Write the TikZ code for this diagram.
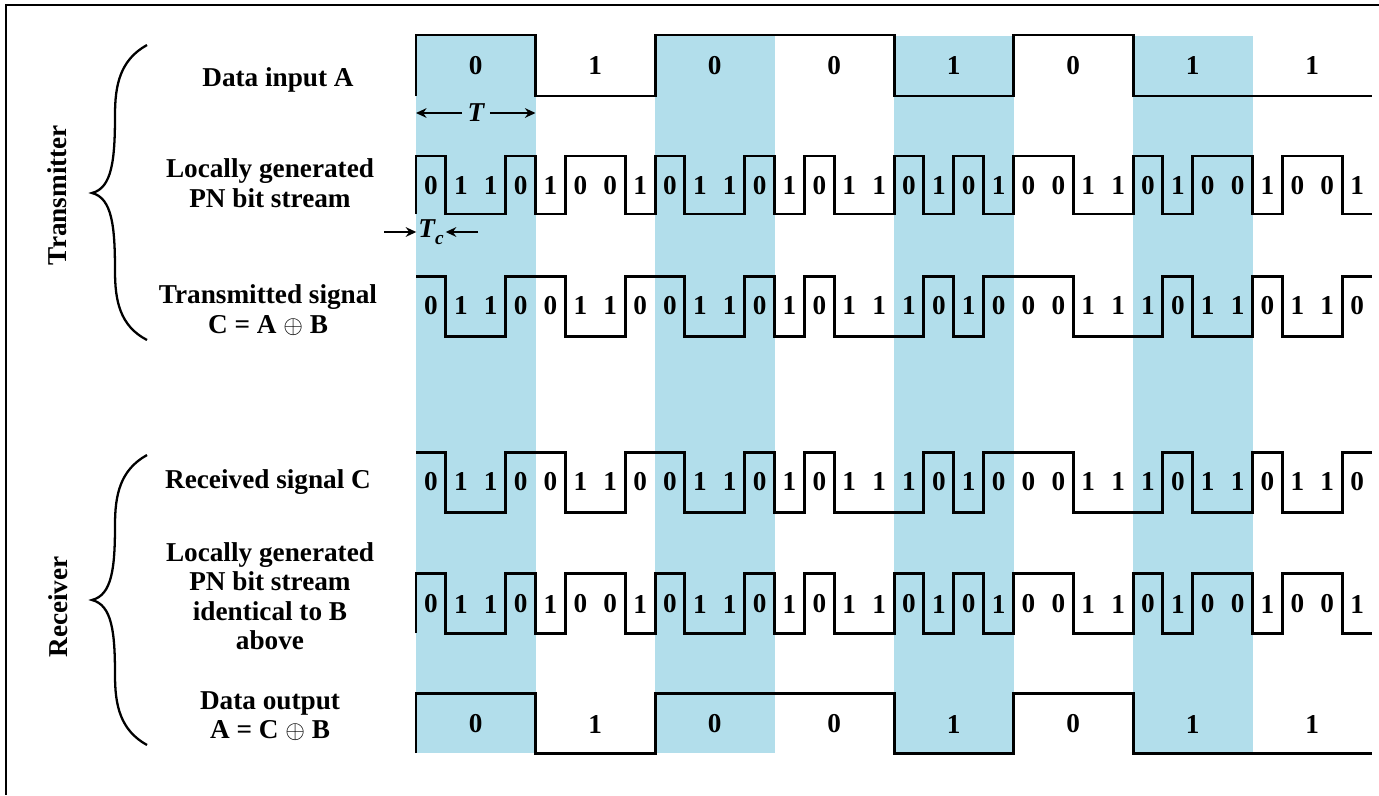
\documentclass[tikz,border=0pt]{standalone}
\usepackage{fontspec}
\setmainfont{Liberation Serif}
\usetikzlibrary{arrows.meta}
\definecolor{chipblue}{RGB}{178,222,235}

\begin{document}
\begin{tikzpicture}[x=0.02cm,y=-0.02cm,
  lbl/.style={font=\fontsize{15.5pt}{16.8pt}\selectfont\bfseries,align=center,inner sep=0pt},
  bit/.style={font=\fontsize{15.5pt}{16pt}\selectfont\bfseries,inner sep=0pt},
  wave/.style={line width=1.7pt,line join=miter},
  brace/.style={line width=1.3pt},
  arr/.style={-{Stealth[length=6pt,width=5.5pt]},line width=1pt}]
  \useasboundingbox (0,0) rectangle (1379,795);
  \def\abits{0,1,0,0,1,0,1,1}
  \def\pnbits{0,1,1,0,1,0,0,1,0,1,1,0,1,0,1,1,0,1,0,1,0,0,1,1,0,1,0,0,1,0,0,1}
  \def\cbits{0,1,1,0,0,1,1,0,0,1,1,0,1,0,1,1,1,0,1,0,0,0,1,1,1,0,1,1,0,1,1,0}
  % frame
  \draw[line width=1.2pt] (1379,5) -- (6,5) -- (6,795);
  % shaded bit periods
  \foreach \k in {0,2,4,6}
    \fill[chipblue] ({416+\k*119.5},36) rectangle ({416+(\k+1)*119.5},753);
  % transmitter
  \node[lbl,rotate=90] (tx) at (57,195) {Transmitter};
  \draw[brace] (147,45) .. controls (120,60) and (115,85) .. (115,115)
    .. controls (115,160) and (112,188) .. (92,193)
    .. controls (112,198) and (115,226) .. (115,271)
    .. controls (115,301) and (120,326) .. (147,340);
  \node[lbl] (ain) at (278,80) {Data input A};
  \node[lbl] (pntx) at (270,183) {Locally generated\\PN bit stream};
  \node[lbl] (ctx) at (268,310) {Transmitted signal\\C = A $\oplus$ B};
  % receiver
  \node[lbl,rotate=90] (rx) at (58,607) {Receiver};
  \draw[brace] (147,455) .. controls (120,470) and (115,495) .. (115,525)
    .. controls (115,568) and (112,595) .. (92,600)
    .. controls (112,605) and (115,632) .. (115,675)
    .. controls (115,705) and (120,730) .. (147,745);
  \node[lbl] (crx) at (268,482) {Received signal C};
  \node[lbl] (pnrx) at (270,596) {Locally generated\\PN bit stream\\identical to B\\above};
  \node[lbl] (aout) at (270,716) {Data output\\A = C $\oplus$ B};
  % data input A
  \draw[wave] (416,96) \foreach \b [count=\i from 0] in \abits
    { -- ({416+\i*119.5},{35+61*\b}) -- ({416+(\i+1)*119.5},{35+61*\b}) };
  \foreach \b [count=\i from 0] in \abits
    \node[bit] (a\i) at ({416+(\i+0.5)*119.5},66) {\b};
  % PN stream B
  \draw[wave] (416,214) \foreach \b [count=\i from 0] in \pnbits
    { -- ({416+\i*29.875},{156+58*\b}) -- ({416+(\i+1)*29.875},{156+58*\b}) };
  \foreach \b [count=\i from 0] in \pnbits
    \node[bit] (b\i) at ({416+(\i+0.5)*29.875},186) {\b};
  % transmitted C
  \draw[wave] (416,276) \foreach \b [count=\i from 0] in \cbits
    { -- ({416+\i*29.875},{276+60*\b}) -- ({416+(\i+1)*29.875},{276+60*\b}) };
  \foreach \b [count=\i from 0] in \cbits
    \node[bit] (c\i) at ({416+(\i+0.5)*29.875},306) {\b};
  % received C
  \draw[wave] (416,452) \foreach \b [count=\i from 0] in \cbits
    { -- ({416+\i*29.875},{452+60*\b}) -- ({416+(\i+1)*29.875},{452+60*\b}) };
  \foreach \b [count=\i from 0] in \cbits
    \node[bit] (r\i) at ({416+(\i+0.5)*29.875},482) {\b};
  % PN stream at receiver
  \draw[wave] (416,633) \foreach \b [count=\i from 0] in \pnbits
    { -- ({416+\i*29.875},{573+60*\b}) -- ({416+(\i+1)*29.875},{573+60*\b}) };
  \foreach \b [count=\i from 0] in \pnbits
    \node[bit] (p\i) at ({416+(\i+0.5)*29.875},604) {\b};
  % data output A
  \draw[wave] (416,753) \foreach \b [count=\i from 0] in \abits
    { -- ({416+\i*119.5},{693+60*\b}) -- ({416+(\i+1)*119.5},{693+60*\b}) };
  \foreach \b [count=\i from 0] in \abits
    \node[bit] (o\i) at ({416+(\i+0.5)*119.5},724) {\b};
  % bit and chip periods
  \coordinate (Tl) at (416,113);
  \coordinate (Tr) at (535.5,113);
  \node[bit,inner sep=3pt] (T) at (476,113) {\itshape T};
  \draw[arr] (T) -- (Tl);
  \draw[arr] (T) -- (Tr);
  \coordinate (tcl) at (384,232);
  \coordinate (tcr) at (478,232);
  \node[bit,inner sep=1pt] (Tc) at (431,232) {\itshape T\raisebox{-4pt}{\fontsize{11pt}{11pt}\selectfont c}};
  \draw[arr] (tcl) -- (Tc);
  \draw[arr] (tcr) -- (Tc);
\end{tikzpicture}
\end{document}
